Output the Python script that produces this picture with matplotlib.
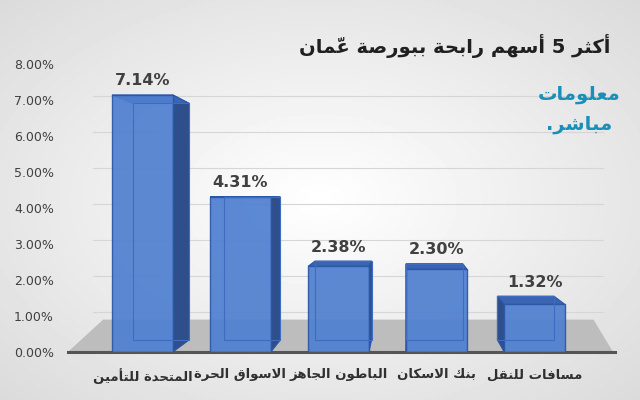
import numpy as np
import matplotlib
matplotlib.use("Agg")
import matplotlib.pyplot as plt
from matplotlib.patches import Polygon

categories = ["المتحدة للتأمين", "الاسواق الحرة", "الباطون الجاهز", "بنك الاسكان", "مسافات للنقل"]
values = [7.14, 4.31, 2.38, 2.30, 1.32]
yticks = [0, 1, 2, 3, 4, 5, 6, 7, 8]
title = "أكثر 5 أسهم رابحة ببورصة عمّان"
logo = ["معلومات", "مباشر."]

# minimal Arabic shaper (presentation forms) for matplotlib
F = {
 'ا': (0xFE8D, 0xFE8E, None, None), 'أ': (0xFE83, 0xFE84, None, None),
 'ب': (0xFE8F, 0xFE90, 0xFE91, 0xFE92), 'ة': (0xFE93, 0xFE94, None, None),
 'ت': (0xFE95, 0xFE96, 0xFE97, 0xFE98), 'ث': (0xFE99, 0xFE9A, 0xFE9B, 0xFE9C),
 'ج': (0xFE9D, 0xFE9E, 0xFE9F, 0xFEA0), 'ح': (0xFEA1, 0xFEA2, 0xFEA3, 0xFEA4),
 'د': (0xFEA9, 0xFEAA, None, None), 'ر': (0xFEAD, 0xFEAE, None, None),
 'ز': (0xFEAF, 0xFEB0, None, None), 'س': (0xFEB1, 0xFEB2, 0xFEB3, 0xFEB4),
 'ش': (0xFEB5, 0xFEB6, 0xFEB7, 0xFEB8),
 'ص': (0xFEB9, 0xFEBA, 0xFEBB, 0xFEBC), 'ط': (0xFEC1, 0xFEC2, 0xFEC3, 0xFEC4),
 'ع': (0xFEC9, 0xFECA, 0xFECB, 0xFECC), 'ف': (0xFED1, 0xFED2, 0xFED3, 0xFED4),
 'ق': (0xFED5, 0xFED6, 0xFED7, 0xFED8), 'ك': (0xFED9, 0xFEDA, 0xFEDB, 0xFEDC),
 'ل': (0xFEDD, 0xFEDE, 0xFEDF, 0xFEE0), 'م': (0xFEE1, 0xFEE2, 0xFEE3, 0xFEE4),
 'ن': (0xFEE5, 0xFEE6, 0xFEE7, 0xFEE8), 'ه': (0xFEE9, 0xFEEA, 0xFEEB, 0xFEEC),
 'و': (0xFEED, 0xFEEE, None, None), 'ي': (0xFEF1, 0xFEF2, 0xFEF3, 0xFEF4),
}
MARKS = {'\u0651'}

def shape(s):
    toks = []
    for ch in s:
        if ch in MARKS and toks:
            toks[-1][1] += ch
        else:
            toks.append([ch, ''])
    out = []
    i = 0
    n = len(toks)
    prev_join = False
    while i < n:
        ch, mk = toks[i]
        if ch not in F:
            out.append(ch + mk); prev_join = False; i += 1; continue
        nxt = toks[i + 1][0] if i + 1 < n else None
        if ch == 'ل' and nxt in ('ا', 'أ'):
            base = 0xFEFB if nxt == 'ا' else 0xFEF7
            out.append(chr(base + (1 if prev_join else 0)) + mk + toks[i + 1][1])
            prev_join = False; i += 2; continue
        iso, fin, ini, med = F[ch]
        nj = ini is not None and nxt in F
        if prev_join and nj: g = med
        elif prev_join: g = fin
        elif nj: g = ini
        else: g = iso
        out.append(chr(g) + mk)
        prev_join = ini is not None
        i += 1
    return ''.join(reversed(out))

fig = plt.figure(figsize=(6.4, 4.0), dpi=100)
bg = fig.add_axes([0, 0, 1, 1], zorder=-10)
yy, xx = np.mgrid[0:1:200j, 0:1:320j]
r = np.sqrt(((xx - 0.5) / 0.7) ** 2 + ((yy - 0.5) / 0.7) ** 2)
bg.imshow(1 - 0.14 * r, cmap='gray', vmin=0, vmax=1, extent=[0, 1, 0, 1], aspect='auto')
bg.axis('off')

ax = fig.add_axes([0.106, 0.12, 0.855, 0.72])
ax.set_facecolor('none')
ax.set_xlim(-0.76, 4.82)
ax.set_ylim(0, 8)
for s in ax.spines.values():
    s.set_visible(False)
ax.set_xticks([])
ax.set_yticks(yticks)
ax.set_yticklabels([f"{t:.2f}%" for t in yticks], fontsize=9, color='#404040')
ax.tick_params(axis='y', length=0, pad=10)
for t in yticks[1:]:
    ax.plot([-0.5, 4.7], [t + 0.1, t + 0.1], color='#d6d6d6', lw=0.8, zorder=0)

vx, vy, kx, ky = 2.7, 4.2, 0.93, 0.92
def back(x, y):
    return (vx + kx * (x - vx), vy + ky * (y - vy))

# floor
ax.add_patch(Polygon([(-0.76, 0), (4.8, 0), (4.6, 0.9), (-0.4, 0.9)],
                     closed=True, fc='#bdbdbd', ec='none', zorder=1))
ax.plot([-0.76, 4.82], [0, 0], color='#555555', lw=2.2, zorder=2, clip_on=False)

w = 0.31
front_c, side_c, top_c, edge_c = '#4f7fd0', '#2f4f8c', '#3b65b2', '#2a56a8'
for i, v in enumerate(values):
    x0, x1 = i - w, i + w
    fr = [(x0, 0), (x1, 0), (x1, v), (x0, v)]
    bk = [back(*p) for p in fr]
    if i < vx:
        side = [fr[1], fr[2], bk[2], bk[1]]
    else:
        side = [fr[0], fr[3], bk[3], bk[0]]
    top = [fr[3], fr[2], bk[2], bk[3]]
    ax.add_patch(Polygon(side, closed=True, fc=side_c, ec=edge_c, lw=0.8, zorder=3))
    ax.add_patch(Polygon(top, closed=True, fc=top_c, ec=edge_c, lw=0.8, zorder=3))
    ax.add_patch(Polygon(bk, closed=True, fc='none', ec='#3d6cc0', lw=0.8, zorder=5))
    ax.add_patch(Polygon(fr, closed=True, fc=front_c, ec=edge_c, lw=1.0, alpha=0.92, zorder=4))
    ax.text(i, max(v, back(i, v)[1]) + 0.18, f"{v:.2f}%", ha='center', va='bottom',
            fontsize=11.5, fontweight='bold', color='#404040', zorder=6)
    ax.text(i, -0.45, shape(categories[i]), ha='center', va='top', fontsize=9.5,
            fontweight='bold', color='#303030', family='DejaVu Sans')

fig.text(0.71, 0.885, shape(title), ha='center', va='center', fontsize=14,
         fontweight='bold', color='#202020', family='DejaVu Sans')
fig.text(0.905, 0.765, shape(logo[0]), ha='center', va='center', fontsize=14,
         fontweight='bold', color='#1a8fb8')
fig.text(0.905, 0.69, shape(logo[1]), ha='center', va='center', fontsize=14,
         fontweight='bold', color='#1a8fb8')

fig.savefig('out.png', dpi=100)
